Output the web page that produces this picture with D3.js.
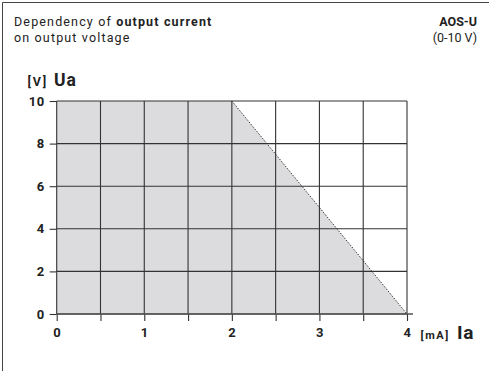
<!DOCTYPE html>
<head>
  <meta charset="utf-8">
  <title>AOS-U output current</title>
  <script src="https://d3js.org/d3.v7.min.js"></script>
  <style>
    body { margin: 0; background: #fff; }
    text { font-family: Roboto, "DejaVu Sans", sans-serif; fill: #222; }
  </style>
</head>
<body>
  <svg width="489" height="371"></svg>

  <script>
  // values
  var areaPoints = [[0, 0], [0, 10], [2, 10], [4, 0]];   // Ia [mA], Ua [V]
  var limitLine = [[2, 10], [4, 0]];
  var xTicks = [0, 0.5, 1, 1.5, 2, 2.5, 3, 3.5, 4];
  var xLabels = [0, 1, 2, 3, 4];
  var yTicks = [0, 2, 4, 6, 8, 10];

  var svg = d3.select("svg");

  var x = d3.scaleLinear().domain([0, 4]).range([56.7, 407]);
  var y = d3.scaleLinear().domain([0, 10]).range([314, 101]);

  // frame (left + top only)
  svg.append("path")
      .attr("d", "M2.5,371V2.5H489")
      .attr("fill", "none")
      .attr("stroke", "#444")
      .attr("stroke-width", 1);

  // header
  var t1 = svg.append("text").attr("x", 14).attr("y", 25.5).attr("font-size", 12.5)
      .attr("letter-spacing", 1.15);
  t1.append("tspan").text("Dependency of ");
  t1.append("tspan").attr("font-weight", "bold").text("output current");
  svg.append("text").attr("x", 14).attr("y", 41.5).attr("font-size", 12.5)
      .attr("letter-spacing", 1.15)
      .text("on output voltage");
  svg.append("text").attr("x", 477).attr("y", 25.5).attr("font-size", 12.5)
      .attr("text-anchor", "end").attr("font-weight", "bold").text("AOS-U");
  svg.append("text").attr("x", 477).attr("y", 41.5).attr("font-size", 12.5)
      .attr("text-anchor", "end").text("(0-10 V)");

  // shaded operating area
  var line = d3.line().x(function(d) { return x(d[0]); }).y(function(d) { return y(d[1]); });
  svg.append("path")
      .attr("d", line(areaPoints) + "Z")
      .attr("fill", "#dcdcdf");

  // grid
  svg.append("g").selectAll("line")
    .data(xTicks)
    .enter().append("line")
      .attr("x1", function(d) { return x(d); })
      .attr("x2", function(d) { return x(d); })
      .attr("y1", y(10))
      .attr("y2", y(0))
      .attr("stroke", "#333")
      .attr("stroke-width", 1.1);
  svg.append("g").selectAll("line")
    .data(yTicks)
    .enter().append("line")
      .attr("x1", x(0))
      .attr("x2", x(4))
      .attr("y1", function(d) { return y(d); })
      .attr("y2", function(d) { return y(d); })
      .attr("stroke", "#333")
      .attr("stroke-width", 1.1);

  // limit line
  svg.append("path")
      .attr("d", line(limitLine))
      .attr("fill", "none")
      .attr("stroke", "#333")
      .attr("stroke-width", 1)
      .attr("stroke-dasharray", "1.5,1.5");

  // axes
  var xAxis = svg.append("g")
      .attr("transform", "translate(0," + y(0) + ")")
      .call(d3.axisBottom(x).tickValues(xTicks).tickSize(7).tickPadding(7)
        .tickFormat(function(d) { return xLabels.indexOf(d) >= 0 ? d : ""; }));
  var yAxis = svg.append("g")
      .attr("transform", "translate(" + x(0) + ",0)")
      .call(d3.axisLeft(y).tickValues(yTicks).tickSize(7).tickPadding(5));

  [xAxis, yAxis].forEach(function(a) {
    a.select(".domain").remove();
    a.selectAll(".tick line").attr("stroke", "#333").attr("stroke-width", 1.1);
    a.selectAll(".tick text")
      .attr("font-family", "Roboto, sans-serif")
      .attr("font-size", 13)
      .attr("font-weight", "bold")
      .attr("letter-spacing", 0.5)
      .attr("fill", "#222");
  });

  // x axis line runs a little past 4 mA
  svg.append("line")
      .attr("x1", x(0)).attr("x2", x(4) + 6)
      .attr("y1", y(0)).attr("y2", y(0))
      .attr("stroke", "#555").attr("stroke-width", 1.3);

  // axis titles
  var ua = svg.append("text").attr("x", 27.5).attr("y", 86);
  ua.append("tspan").attr("font-size", 12.5).attr("font-weight", "bold")
      .attr("letter-spacing", 1.8).text("[V]");
  ua.append("tspan").attr("dx", 6).attr("font-size", 17.5).attr("font-weight", "bold")
      .attr("letter-spacing", 0.8).text("Ua");

  var ia = svg.append("text").attr("x", 420.5).attr("y", 338.5);
  ia.append("tspan").attr("font-size", 11).attr("font-weight", "bold")
      .attr("letter-spacing", 1.6).text("[mA]");
  ia.append("tspan").attr("dx", 7).attr("font-size", 19).attr("font-weight", "bold")
      .attr("letter-spacing", 0.8).text("Ia");
  </script>
</body>
